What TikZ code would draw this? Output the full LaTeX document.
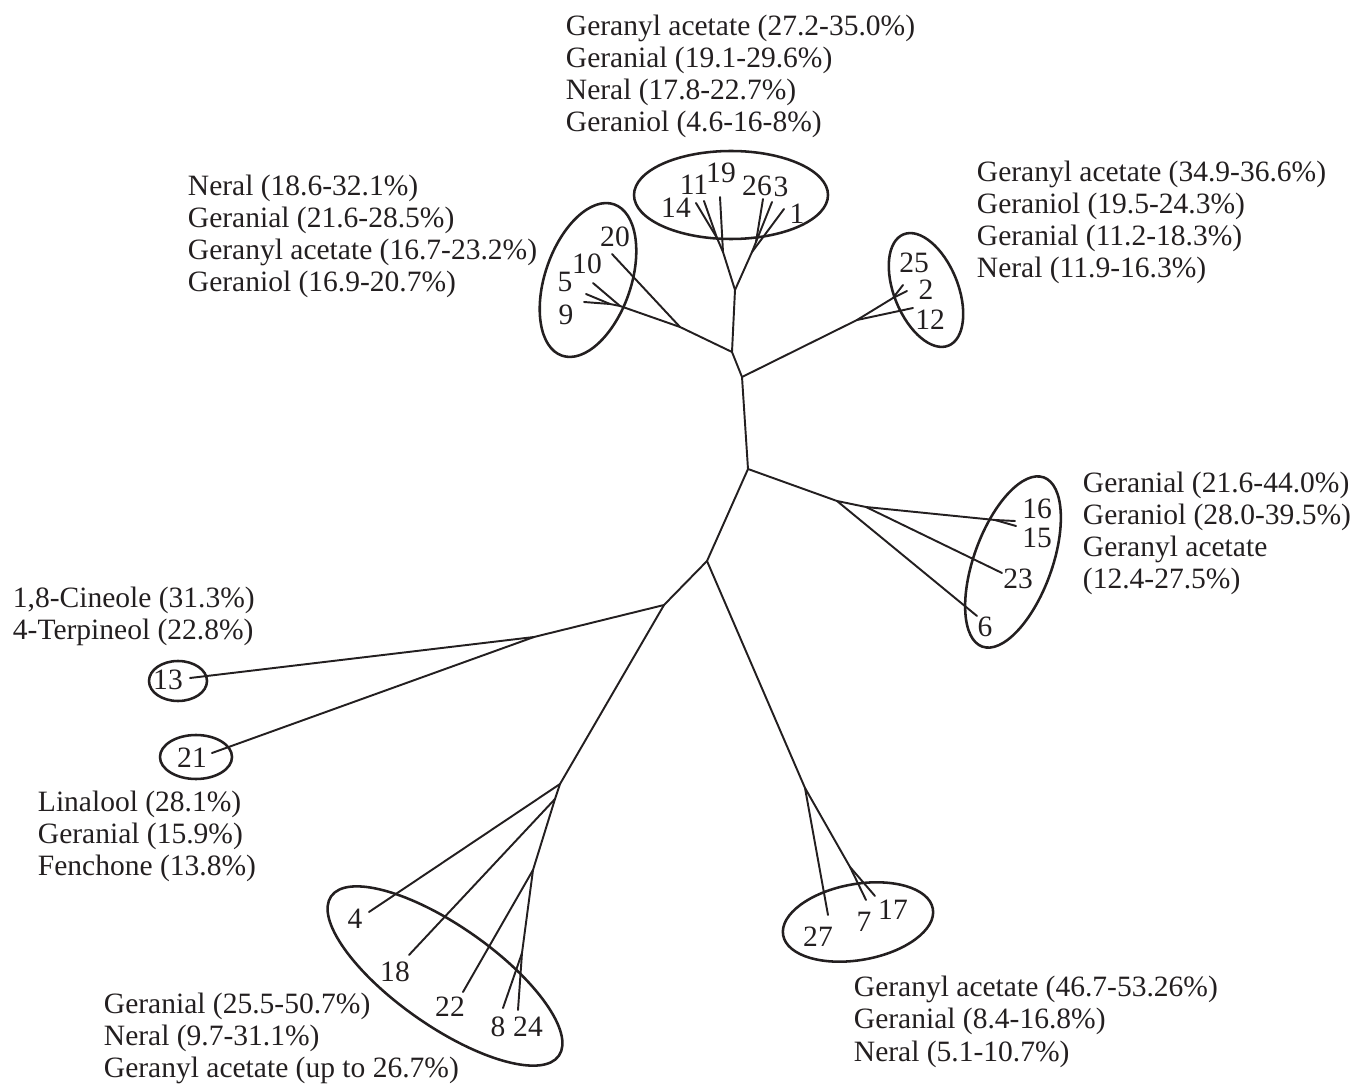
\documentclass[tikz,border=0pt]{standalone}
\usepackage{fontspec}
\setmainfont{Liberation Serif}
\definecolor{ink}{HTML}{231F20}
\begin{document}
\begin{tikzpicture}[x=0.02cm, y=-0.02cm, font=\fontsize{16.8}{20}\selectfont,
    color=ink, line width=1.1pt, line cap=round,
    lbl/.style={anchor=base west, inner sep=0pt},
    num/.style={inner sep=0pt},
    grp/.style={line width=1.45pt}]
  \useasboundingbox (0,0) rectangle (1353,1084);

  % Inner nodes of the tree
  \coordinate (n1) at (735,290);
  \coordinate (n2) at (732,352);
  \coordinate (n3) at (742,377);
  \coordinate (n4) at (748,469);
  \coordinate (n5) at (707,561);
  \coordinate (n6) at (664,605);
  \coordinate (ta) at (723,252);
  \coordinate (tb) at (717,238);
  \coordinate (tc) at (752,252);
  \coordinate (td) at (756,242);
  \coordinate (la) at (680,327);
  \coordinate (lb) at (620,306);
  \coordinate (lc) at (610,304);
  \coordinate (ra) at (857,320);
  \coordinate (rb) at (893,298);
  \coordinate (sa) at (837,501);
  \coordinate (sb) at (866,507);
  \coordinate (sc) at (995,520);
  \coordinate (ma) at (534,637);
  \coordinate (ba) at (560,784);
  \coordinate (bb) at (555,799);
  \coordinate (bc) at (533,870);
  \coordinate (bd) at (522,953);
  \coordinate (ca) at (805,788);
  \coordinate (cb) at (850,867);

  % Tips of the branches
  \foreach \s/\x/\y in {14/696/203, 11/704/201, 19/720/197, 26/763/199,
      3/772/202, 1/784/209, 20/612/254, 10/593/283, 5/586/294, 9/584/302,
      25/903/285, 2/907/291, 12/913/308, 16/1015/521, 15/1016/526,
      23/1002/573, 6/977/616, 13/190/678, 21/212/753, 4/369/912,
      18/409/955, 22/463/992, 8/503/1008, 24/518/1010, 27/828/915,
      7/866/900, 17/875/896} {
    \coordinate (t\s) at (\x,\y);
  }

  % Draw the branches
  \foreach \a/\b in {n1/n2, n2/n3, n3/n4, n4/n5, n5/n6,
      n1/ta, ta/tb, tb/t14, tb/t11, ta/t19, n1/tc, tc/t1, tc/td, td/t26, td/t3,
      n2/la, la/t20, la/lb, lb/t10, lb/lc, lc/t5, lc/t9,
      n3/ra, ra/t12, ra/rb, rb/t25, rb/t2,
      n4/sa, sa/t6, sa/sb, sb/t23, sb/sc, sc/t16, sc/t15,
      n6/ma, ma/t13, ma/t21,
      n6/ba, ba/t4, ba/bb, bb/t18, bb/bc, bc/t22, bc/bd, bd/t8, bd/t24,
      n5/ca, ca/t27, ca/cb, cb/t7, cb/t17} {
    \draw (\a) -- (\b);
  }

  % Sample numbers
  \foreach \s/\x/\y in {14/676/208, 11/694/185, 19/721/173, 26/757/186,
      3/781/187, 1/797/214, 20/615/237, 10/587/264, 5/565/282, 9/566/315,
      25/914/263, 2/926/290, 12/930/320, 16/1037/509, 15/1037/538,
      23/1018/579, 6/985/627, 13/168/680, 21/192/758, 4/355/919,
      18/395/972, 22/450/1007, 8/498/1027, 24/528/1027, 27/818/937,
      7/864/922, 17/893/910} {
    \node[num] (c\s) at (\x,\y) {\s};
  }

  % Groups
  \draw[grp] (731,195) ellipse [x radius=97, y radius=44];
  \draw[grp, shift={(588,280)}, rotate=71] (0,0) ellipse [x radius=80, y radius=43];
  \draw[grp, shift={(926,290)}, rotate=-68] (0,0) ellipse [x radius=60, y radius=32];
  \draw[grp, shift={(1013,562)}, rotate=70] (0,0) ellipse [x radius=90, y radius=39];
  \draw[grp, shift={(445,976)}, rotate=-35] (0,0) ellipse [x radius=139, y radius=50];
  \draw[grp, shift={(858,922)}, rotate=10] (0,0) ellipse [x radius=76, y radius=38];
  \draw[grp] (178,681) ellipse [x radius=29, y radius=20];
  \draw[grp] (196,757) ellipse [x radius=36, y radius=22];

  % Main compounds of each group
  \foreach \t [count=\i from 0] in {Geranyl acetate (27.2-35.0\%),
      Geranial (19.1-29.6\%), Neral (17.8-22.7\%), Geraniol (4.6-16-8\%)} {
    \node[lbl] (top\i) at (565,36+32*\i) {\t};
  }
  \foreach \t [count=\i from 0] in {Neral (18.6-32.1\%), Geranial (21.6-28.5\%),
      Geranyl acetate (16.7-23.2\%), Geraniol (16.9-20.7\%)} {
    \node[lbl] (lft\i) at (187,196+32*\i) {\t};
  }
  \foreach \t [count=\i from 0] in {Geranyl acetate (34.9-36.6\%),
      Geraniol (19.5-24.3\%), Geranial (11.2-18.3\%), Neral (11.9-16.3\%)} {
    \node[lbl] (rgt\i) at (976,182+32*\i) {\t};
  }
  \foreach \t [count=\i from 0] in {Geranial (21.6-44.0\%), Geraniol (28.0-39.5\%),
      Geranyl acetate, (12.4-27.5\%)} {
    \node[lbl] (mid\i) at (1082,493+31.7*\i) {\t};
  }
  \foreach \t [count=\i from 0] in {{1,8-Cineole (31.3\%)}, 4-Terpineol (22.8\%)} {
    \node[lbl] (cin\i) at (12,607+32*\i) {\t};
  }
  \foreach \t [count=\i from 0] in {Linalool (28.1\%), Geranial (15.9\%),
      Fenchone (13.8\%)} {
    \node[lbl] (lin\i) at (37,811+32*\i) {\t};
  }
  \foreach \t [count=\i from 0] in {Geranial (25.5-50.7\%), Neral (9.7-31.1\%),
      Geranyl acetate (up to 26.7\%)} {
    \node[lbl] (bot\i) at (103,1013+32*\i) {\t};
  }
  \foreach \t [count=\i from 0] in {Geranyl acetate (46.7-53.26\%),
      Geranial (8.4-16.8\%), Neral (5.1-10.7\%)} {
    \node[lbl] (acy\i) at (853,996+32.5*\i) {\t};
  }
\end{tikzpicture}
\end{document}
